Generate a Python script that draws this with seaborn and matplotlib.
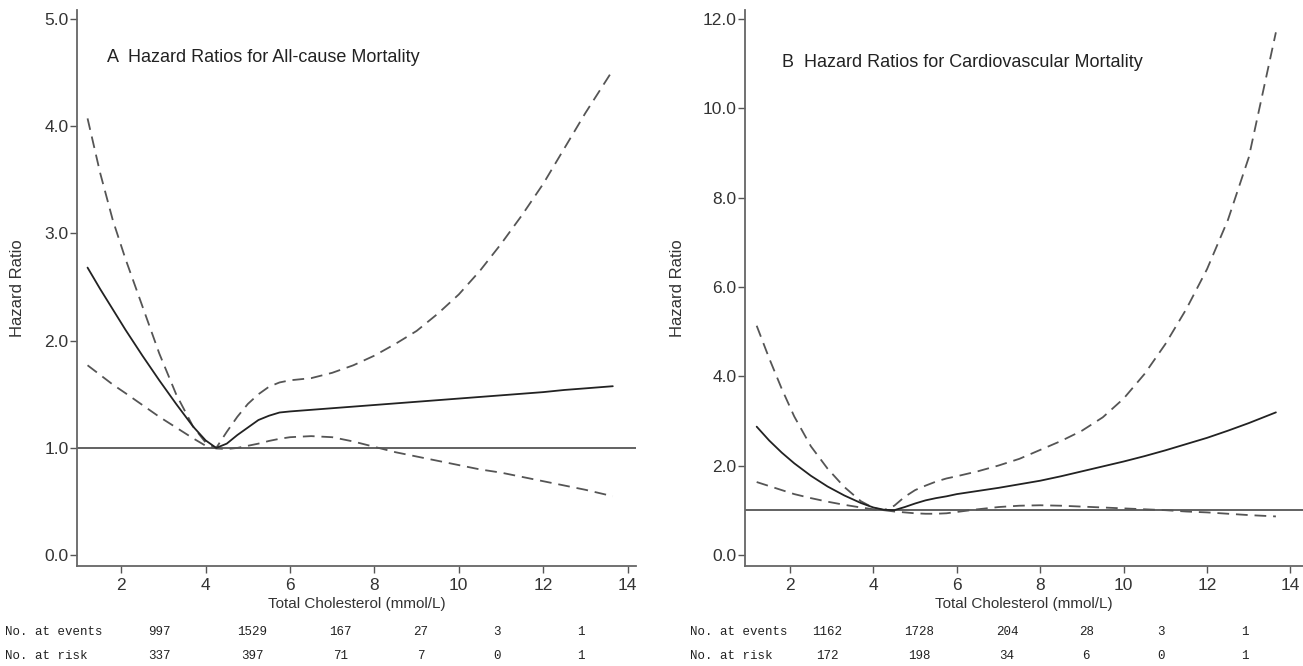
import pandas as pd
import matplotlib
matplotlib.use('Agg')
import matplotlib.pyplot as plt
import matplotlib.transforms as mtransforms
import seaborn as sns

# cholesterol grid shared by all curves (mmol/L)
chol = [1.2, 1.5, 1.8, 2.1, 2.5, 2.9, 3.3, 3.7, 4.0, 4.25, 4.5, 4.75, 5.0, 5.25,
        5.5, 5.75, 6.0, 6.5, 7.0, 7.5, 8.0, 8.5, 9.0, 9.5, 10.0, 10.5, 11.0,
        11.5, 12.0, 12.5, 13.0, 13.65]

# panel A - all-cause mortality
hr_a = [2.68, 2.48, 2.29, 2.10, 1.86, 1.63, 1.41, 1.20, 1.07, 1.00, 1.04, 1.12,
        1.19, 1.26, 1.30, 1.33, 1.34, 1.355, 1.37, 1.385, 1.40, 1.415, 1.43,
        1.445, 1.46, 1.475, 1.49, 1.505, 1.52, 1.54, 1.555, 1.575]
up_a = [4.07, 3.56, 3.12, 2.76, 2.32, 1.88, 1.50, 1.20, 1.05, 1.00, 1.15, 1.29,
        1.41, 1.50, 1.57, 1.61, 1.63, 1.65, 1.70, 1.77, 1.86, 1.97, 2.09, 2.25,
        2.43, 2.65, 2.90, 3.17, 3.46, 3.79, 4.12, 4.52]
lo_a = [1.77, 1.68, 1.59, 1.51, 1.40, 1.29, 1.19, 1.09, 1.02, 0.995, 0.99, 1.00,
        1.02, 1.04, 1.065, 1.085, 1.10, 1.11, 1.10, 1.06, 1.01, 0.96, 0.92,
        0.88, 0.84, 0.80, 0.77, 0.73, 0.69, 0.65, 0.61, 0.55]

# panel B - cardiovascular mortality
hr_b = [2.87, 2.56, 2.29, 2.05, 1.77, 1.53, 1.33, 1.16, 1.06, 1.01, 1.00, 1.07,
        1.15, 1.22, 1.27, 1.31, 1.36, 1.43, 1.50, 1.58, 1.66, 1.76, 1.87, 1.98,
        2.09, 2.21, 2.34, 2.48, 2.62, 2.78, 2.95, 3.19]
up_b = [5.13, 4.40, 3.72, 3.10, 2.43, 1.93, 1.52, 1.20, 1.05, 1.00, 1.10, 1.30,
        1.45, 1.55, 1.64, 1.71, 1.76, 1.87, 2.00, 2.15, 2.35, 2.55, 2.78, 3.08,
        3.50, 4.05, 4.72, 5.50, 6.40, 7.50, 8.90, 11.70]
lo_b = [1.63, 1.54, 1.45, 1.36, 1.27, 1.19, 1.12, 1.06, 1.02, 1.00, 0.97, 0.95,
        0.93, 0.92, 0.92, 0.93, 0.96, 1.02, 1.07, 1.10, 1.11, 1.10, 1.08, 1.06,
        1.04, 1.02, 1.00, 0.97, 0.95, 0.92, 0.89, 0.86]

# risk table
events_a = ['997', '1529', '167', '27', '3', '1']
risk_a = ['337', '397', '71', '7', '0', '1']
events_b = ['1162', '1728', '204', '28', '3', '1']
risk_b = ['172', '198', '34', '6', '0', '1']

titles = ['A  Hazard Ratios for All-cause Mortality',
          'B  Hazard Ratios for Cardiovascular Mortality']

sns.set_theme(style='white')
plt.rcParams['font.family'] = ['Liberation Sans', 'DejaVu Sans']

fig = plt.figure(figsize=(13.03, 6.66), dpi=100)
W, H = 1303, 666
axA = fig.add_axes([77 / W, 1 - 566 / H, 559 / W, 556 / H])
axB = fig.add_axes([745 / W, 1 - 566 / H, 558 / W, 556 / H])

panels = [
    (axA, hr_a, up_a, lo_a, (-0.1, 5.08), [0, 1, 2, 3, 4, 5], (0.95, 14.2),
     -0.093, (0.054, 0.915), events_a, risk_a),
    (axB, hr_b, up_b, lo_b, (-0.25, 12.2), [0, 2, 4, 6, 8, 10, 12], (0.92, 14.3),
     -0.1075, (0.066, 0.906), events_b, risk_b),
]
table_x = [2.9, 5.1, 7.2, 9.1, 10.9, 12.9]
dash = (0, (6.5, 3.8))

for i, (ax, hr, up, lo, ylim, yt, xlim, ylab_x, tpos, ev, rk) in enumerate(panels):
    df = pd.DataFrame({'chol': chol, 'hr': hr, 'up': up, 'lo': lo})
    ax.axhline(1.0, color='#555555', lw=1.3, zorder=1)
    sns.lineplot(data=df, x='chol', y='up', ax=ax, color='#555555', lw=1.3,
                 linestyle=dash)
    sns.lineplot(data=df, x='chol', y='lo', ax=ax, color='#555555', lw=1.3,
                 linestyle=dash)
    sns.lineplot(data=df, x='chol', y='hr', ax=ax, color='#222222', lw=1.3)

    ax.set_xlim(*xlim)
    ax.set_ylim(*ylim)
    ax.set_xticks([2, 4, 6, 8, 10, 12, 14])
    ax.set_yticks(yt)
    ax.set_yticklabels(['%.1f' % v for v in yt])
    for s in ['top', 'right']:
        ax.spines[s].set_visible(False)
    for s in ['left', 'bottom']:
        ax.spines[s].set_color('#666666')
        ax.spines[s].set_linewidth(1.3)
    ax.tick_params(axis='both', direction='out', length=5, width=1,
                   color='#555555', labelcolor='#333333', labelsize=12.5,
                   left=True, bottom=True)
    ax.tick_params(axis='y', pad=1)
    ax.tick_params(axis='x', pad=4)

    ax.set_xlabel('Total Cholesterol (mmol/L)', fontsize=11, color='#333333')
    ax.xaxis.set_label_coords(0.5, -0.056)
    ax.set_ylabel('Hazard Ratio', fontsize=12, color='#333333')
    ax.yaxis.set_label_coords(ylab_x, 0.5)
    ax.text(tpos[0], tpos[1], titles[i], transform=ax.transAxes, fontsize=13,
            color='#222222', va='center', ha='left')

    # numbers below the axis
    tr = mtransforms.blended_transform_factory(ax.transData, fig.transFigure)
    for xx, e, r in zip(table_x, ev, rk):
        ax.text(xx, 1 - 632 / H, e, transform=tr, ha='center', va='center',
                fontsize=9, family='Liberation Mono', color='#222222')
        ax.text(xx, 1 - 656 / H, r, transform=tr, ha='center', va='center',
                fontsize=9, family='Liberation Mono', color='#222222')

for x0 in [5, 690]:
    fig.text(x0 / W, 1 - 632 / H, 'No. at events', ha='left', va='center',
             fontsize=9, family='Liberation Mono', color='#222222')
    fig.text(x0 / W, 1 - 656 / H, 'No. at risk', ha='left', va='center',
             fontsize=9, family='Liberation Mono', color='#222222')

fig.savefig('out.png', dpi=100)
